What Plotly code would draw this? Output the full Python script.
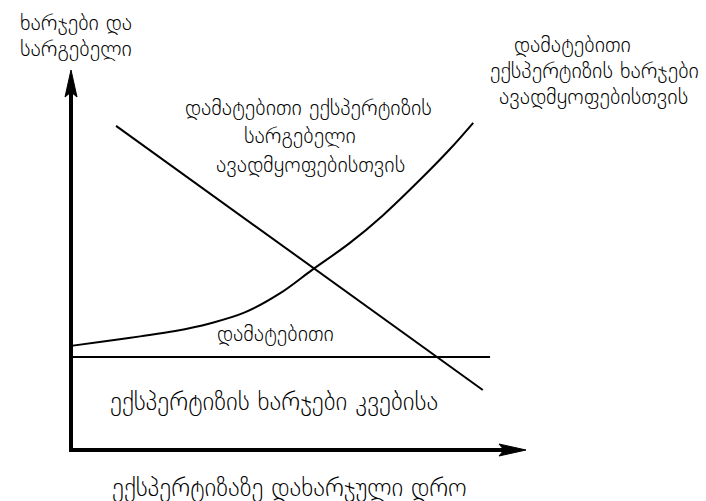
"""
Cost / benefit sketch of extra expertise time (Georgian labels).
"""

import plotly.graph_objects as go

# curve (time units 0..10, cost units 0..10)
extra_cost_time = [0, 0.75, 1.52, 2.29, 3.05, 3.82, 4.59, 5.30, 6.13, 6.86, 7.67, 8.33, 8.84]
extra_cost = [2.74, 2.86, 2.99, 3.13, 3.33, 3.62, 4.12, 4.74, 5.45, 6.18, 7.11, 7.92, 8.61]

benefit_time = [0.99, 9.05]
benefit = [8.53, 1.58]

food_cost_time = [0, 9.21]
food_cost = [2.45, 2.45]

y_title = ["ხარჯები და", "სარგებელი"]
cost_label = ["დამატებითი", "ექსპერტიზის ხარჯები", "ავადმყოფებისთვის"]
benefit_label = ["დამატებითი ექსპერტიზის", "სარგებელი", "ავადმყოფებისთვის"]
food_label = ["დამატებითი", "ექსპერტიზის ხარჯები კვებისა"]
x_title = "ექსპერტიზაზე დახარჯული დრო"

W, H = 706, 501
ORIGIN = (71, 450)      # pixel position of the axes corner
PX_X, PX_Y = 45.5, 38.0  # pixels per unit
AXIS_END = 10
FONT = "DejaVu Sans ExtraLight, DejaVu Sans Light, DejaVu Sans"
INK = "black"


def px_x(p):
    return (p - ORIGIN[0]) / PX_X


def px_y(p):
    return (ORIGIN[1] - p) / PX_Y


fig = go.Figure()

line = dict(color=INK, width=2)
fig.add_trace(go.Scatter(x=extra_cost_time, y=extra_cost, mode="lines",
                         line=dict(color=INK, width=2, shape="spline", smoothing=1.0)))
fig.add_trace(go.Scatter(x=benefit_time, y=benefit, mode="lines", line=line))
fig.add_trace(go.Scatter(x=food_cost_time, y=food_cost, mode="lines", line=line))

# axes with arrow heads
shapes = [
    dict(type="line", xref="x", yref="y", x0=-2 / PX_X, x1=AXIS_END - 15 / PX_X, y0=0, y1=0,
         line=dict(color=INK, width=4)),
    dict(type="line", xref="x", yref="y", x0=0, x1=0, y0=-2 / PX_Y, y1=AXIS_END - 15 / PX_Y,
         line=dict(color=INK, width=4)),
    dict(type="path", xref="x", yref="y", xsizemode="pixel", ysizemode="pixel",
         xanchor=AXIS_END, yanchor=0, path="M0,0 L-27,6 L-22,0 L-27,-6 Z",
         fillcolor=INK, line=dict(color=INK, width=1)),
    dict(type="path", xref="x", yref="y", xsizemode="pixel", ysizemode="pixel",
         xanchor=0, yanchor=AXIS_END, path="M0,0 L-6,-27 L0,-22 L6,-27 Z",
         fillcolor=INK, line=dict(color=INK, width=1)),
]

annotations = []


def add_lines(texts, cxs, ys, size=22):
    for t, cx, cy in zip(texts, cxs, ys):
        annotations.append(dict(
            text=t, x=px_x(cx), y=px_y(cy), xref="x", yref="y",
            xanchor="center", yanchor="middle", showarrow=False,
            font=dict(family=FONT, size=size, color=INK, weight=200),
        ))


add_lines(y_title, [76, 76], [22, 48])
add_lines(cost_label, [572, 594, 593], [44, 70, 96])
add_lines(benefit_label, [308, 300, 310], [107, 135, 164])
add_lines(food_label[:1], [275], [333])
add_lines(food_label[1:], [274], [401], size=25)
add_lines([x_title], [289], [487], size=25)

fig.update_layout(
    width=W, height=H,
    margin=dict(l=0, r=0, t=0, b=0),
    paper_bgcolor="white", plot_bgcolor="white",
    showlegend=False,
    shapes=shapes,
    annotations=annotations,
    xaxis=dict(range=[px_x(0), px_x(W)], visible=False, fixedrange=True),
    yaxis=dict(range=[px_y(H), px_y(0)], visible=False, fixedrange=True),
)

fig.write_html("out.html", config={"displayModeBar": False},
               post_script="document.body.style.margin='0';")
